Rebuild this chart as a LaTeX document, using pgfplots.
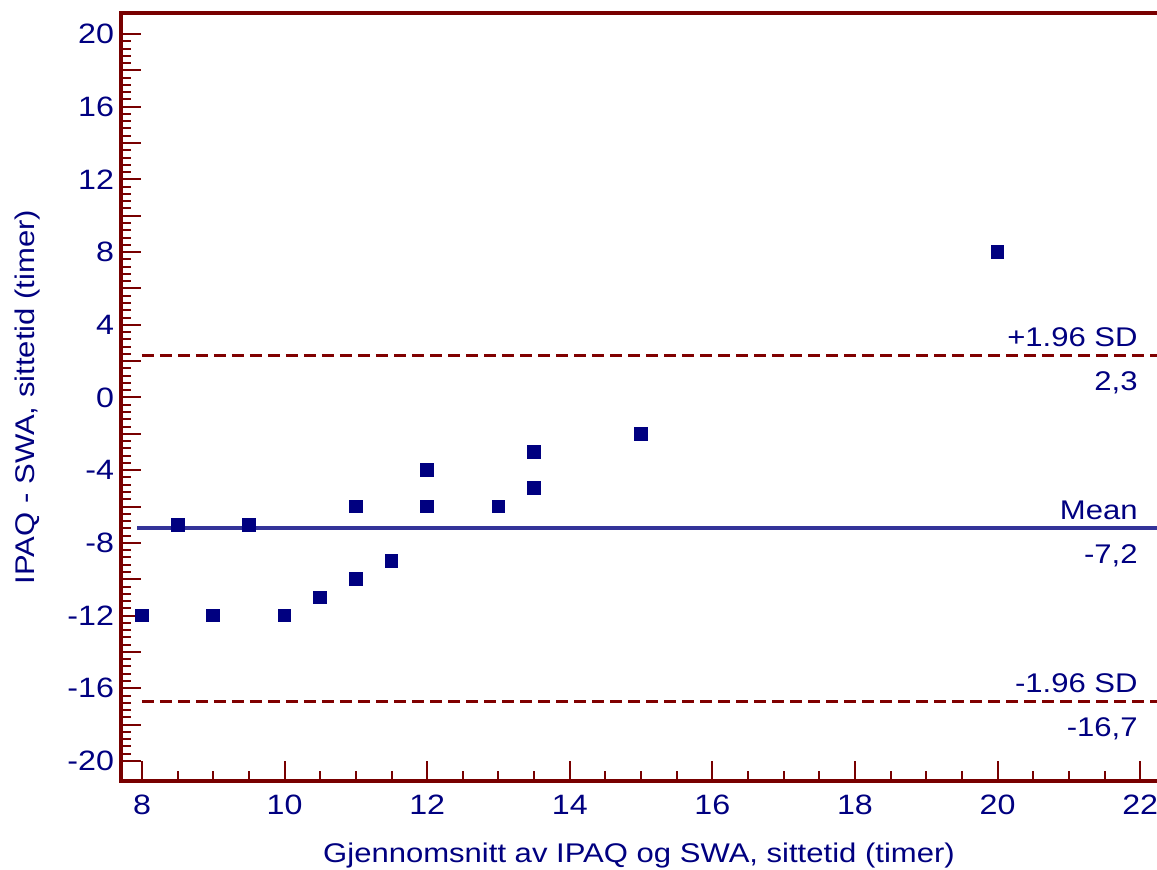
\documentclass[border=0pt]{standalone}
\usepackage{fontspec}
\setmainfont[FakeStretch=1.15]{Liberation Sans}
\usepackage{pgfplots}
\pgfplotsset{compat=1.18}
\definecolor{axred}{HTML}{780000}
\definecolor{navy}{HTML}{000080}
\definecolor{meanblue}{HTML}{333399}
\definecolor{sdred}{HTML}{800000}
\begin{document}
\begin{tikzpicture}
\begin{axis}[
  scale only axis, width=518pt, height=384pt,
  xmin=7.7055, xmax=22.236, ymin=-21.10, ymax=21.155,
  axis line style={draw=none},
  xtick={8,10,...,22}, minor x tick num=3,
  xticklabels={8,10,12,14,16,18,20,22},
  ytick={-20,-18,...,20}, minor y tick num=4,
  yticklabels={-20,,-16,,-12,,-8,,-4,,0,,4,,8,,12,,16,,20},
  tick align=inside, xtick pos=bottom, ytick pos=left,
  major tick length=10pt, minor tick length=5pt,
  every tick/.style={axred, line width=1pt},
  tick label style={font=\fontsize{14}{16}\selectfont, text=navy},
  xticklabel style={yshift=-3.5pt},
  /pgf/number format/assume math mode=true,
  xlabel={Gjennomsnitt av IPAQ og SWA, sittetid (timer)},
  ylabel={IPAQ - SWA, sittetid (timer)},
  label style={font=\fontsize{13.5}{16}\selectfont, text=navy},
  xlabel style={at={([yshift=-41pt]axis description cs:0.5,0)}, anchor=base},
  ylabel style={at={([xshift=-43pt]axis description cs:0,0.5)}, anchor=base, rotate=0},
  clip=false,
]
\addplot[meanblue, line width=2pt] coordinates {(7.93,-7.2) (22.236,-7.2)};
\addplot[sdred, line width=1.5pt, dash pattern=on 6pt off 3pt] coordinates {(8,2.3) (22.236,2.3)};
\addplot[sdred, line width=1.5pt, dash pattern=on 6pt off 3pt] coordinates {(8,-16.7) (22.236,-16.7)};
\addplot[only marks, mark=square*, mark size=3.2pt, mark options={fill=navy, draw=navy, line width=0pt}] coordinates {
(8,-12) (8.5,-7) (9,-12) (9.5,-7) (10,-12) (10.5,-11) (11,-10) (11,-6)
(11.5,-9) (12,-6) (12,-4) (13,-6) (13.5,-5) (13.5,-3) (15,-2) (20,8)};
\begin{scope}[every node/.style={font=\fontsize{13.5}{16}\selectfont, text=navy, inner sep=0pt}]
\node[anchor=base east] at ([yshift=4.5pt]axis cs:21.97,2.3) {+1.96 SD};
\node[anchor=north east] at ([yshift=-8pt]axis cs:21.97,2.3) {2,3};
\node[anchor=base east] at ([yshift=4.5pt]axis cs:21.97,-7.2) {Mean};
\node[anchor=north east] at ([yshift=-8pt]axis cs:21.97,-7.2) {-7,2};
\node[anchor=base east] at ([yshift=4.5pt]axis cs:21.97,-16.7) {-1.96 SD};
\node[anchor=north east] at ([yshift=-8pt]axis cs:21.97,-16.7) {-16,7};
\end{scope}
\draw[axred, line width=2pt] (rel axis cs:1,1) -- (rel axis cs:0,1) -- (rel axis cs:0,0) -- (rel axis cs:1,0);
\coordinate (SW) at (rel axis cs:0,0);
\coordinate (NE) at (rel axis cs:1,1);
\end{axis}
\pgfresetboundingbox
\path[use as bounding box] ([shift={(-60.5pt,-44.5pt)}]SW) rectangle ([shift={(0pt,6.5pt)}]NE);
\end{tikzpicture}
\end{document}
